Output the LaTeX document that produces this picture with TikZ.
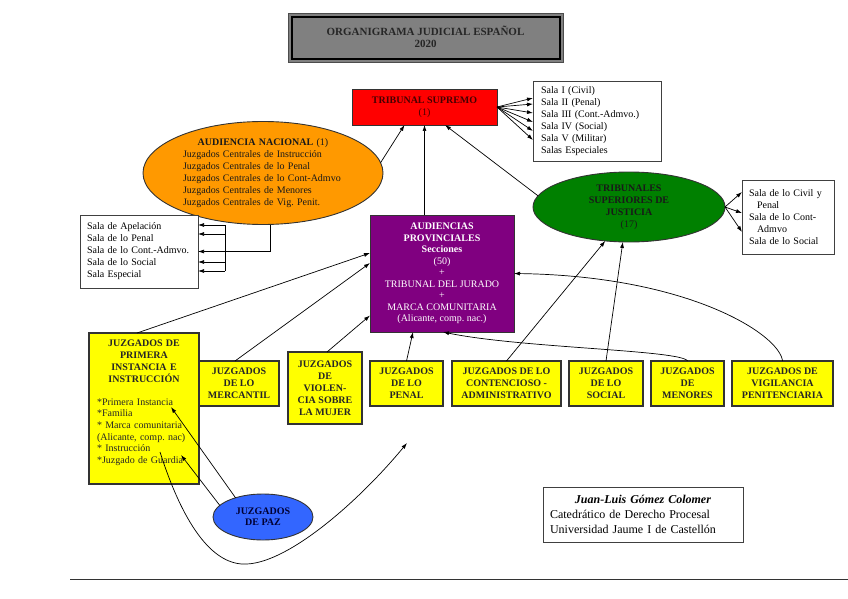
\documentclass[tikz,border=0pt]{standalone}
\usepackage{fontspec}
\setmainfont{Liberation Serif}
\usetikzlibrary{arrows.meta,shapes.geometric,calc}
\definecolor{anorange}{RGB}{255,153,0}
\definecolor{tsjgreen}{RGB}{0,128,0}
\definecolor{appurple}{RGB}{128,0,128}
\definecolor{pazblue}{RGB}{51,102,255}
\definecolor{titlegray}{RGB}{128,128,128}
\definecolor{tsred}{RGB}{255,0,0}
\definecolor{darkred}{RGB}{70,0,0}
\definecolor{navy}{RGB}{0,0,50}
\definecolor{ybg}{RGB}{255,255,0}
\frenchspacing
\begin{document}
\begin{tikzpicture}[x=1pt,y=-1pt,
  every node/.style={inner sep=0pt, outer sep=0pt, font=\fontsize{10}{12}\selectfont},
  arr/.style={-{Latex[length=6pt,width=4pt]}, line width=0.7pt},
  ln/.style={line width=0.7pt},
  ybox/.style={draw=black!80, line width=1.3pt, fill=ybg, align=center, text=black!85, font=\fontsize{10}{12}\selectfont\bfseries},
  wbox/.style={draw=black!75, line width=0.9pt, fill=white, align=left},
]
\useasboundingbox (0,0) rectangle (848,599);

% title
\node[draw=black!70, line width=1pt, fill=titlegray, minimum width=275, minimum height=49] (titlebox) at (425.5,38.5) {};
\draw[line width=2pt] ([shift={(3.5,3.5)}]titlebox.north west) rectangle ([shift={(-3.5,-3.5)}]titlebox.south east);
\node[align=center, font=\fontsize{11}{12.5}\selectfont\bfseries, text=black!85] (title) at (425.5,37) {ORGANIGRAMA JUDICIAL ESPAÑOL\\2020};

% Tribunal Supremo
\node[draw=black!80, line width=0.9pt, fill=tsred, minimum width=145, minimum height=36, align=center, text=darkred] (ts) at (424.5,107) {\textbf{TRIBUNAL SUPREMO}\\(1)};
\node[wbox, minimum height=80, text width=112, inner xsep=8] (tss) at (597,121) {Sala I (Civil)\\Sala II (Penal)\\Sala III (Cont.-Admvo.)\\Sala IV (Social)\\Sala V (Militar)\\Salas Especiales};
\foreach \dy in {-23,-17,-8,1,10,19} \draw[arr] (ts.east) -- ($(tss.west)+(0,\dy)$);

% Audiencia Nacional
\node[ellipse, draw=black!80, line width=0.9pt, fill=anorange, minimum width=240, minimum height=103, text width=160, text=black!90] (an) at (263,173) {\centering\textbf{AUDIENCIA NACIONAL} (1)\par\raggedright Juzgados Centrales de Instrucción\\Juzgados Centrales de lo Penal\\Juzgados Centrales de lo Cont-Admvo\\Juzgados Centrales de Menores\\Juzgados Centrales de Vig. Penit.};
\node[wbox, minimum height=73, text width=104, inner xsep=7] (ans) at (139,251.5) {Sala de Apelación\\Sala de lo Penal\\Sala de lo Cont.-Admvo.\\Sala de lo Social\\Sala Especial};
\draw[arr] ($(an.south)+(7,0)$) |- (ans.east);
\coordinate (brk) at ($(ans.east)+(27,0)$);
\draw[ln] ($(brk)+(0,-26.5)$) -- ($(brk)+(0,19.5)$);
\foreach \dy in {-26.5,-17.5,10.5,19.5} \draw[arr] ($(brk)+(0,\dy)$) -- ($(ans.east)+(0,\dy)$);
\draw[arr] (an.5) -- ($(ts.south)+(-20,0)$);

% Audiencias Provinciales
\node[draw=black!80, line width=0.9pt, fill=appurple, minimum width=144, minimum height=117, align=center, text=white, font=\fontsize{10}{11.5}\selectfont] (ap) at (442,273.5) {\textbf{AUDIENCIAS}\\\textbf{PROVINCIALES}\\\textbf{Secciones}\\(50)\\+\\TRIBUNAL DEL JURADO\\+\\MARCA COMUNITARIA\\(Alicante, comp. nac.)};
\draw[arr] (ts.south |- ap.north) -- (ts.south);

% TSJ
\node[ellipse, draw=black!80, line width=0.9pt, fill=tsjgreen, minimum width=192, minimum height=70, align=center, text=black!90] (tsj) at (629,207) {\textbf{TRIBUNALES}\\\textbf{SUPERIORES DE}\\\textbf{JUSTICIA}\\(17)};
\draw[arr] (tsj.173) -- ($(ts.south)+(20.5,0)$);
\node[wbox, minimum height=74, text width=78, inner xsep=7] (tsjs) at (788,217) {Sala de lo Civil y\\\hspace*{8pt}Penal\\Sala de lo Cont-\\\hspace*{8pt}Admvo\\Sala de lo Social};
\foreach \dy in {-25,-4,15} \draw[arr] (tsj.east) -- ($(tsjs.west)+(0,\dy)$);

% Juzgados
\node[ybox, minimum width=110, minimum height=151] (pi) at (144,408.5) {};
\node[anchor=north, text width=94, text=black!85] (pitxt) at ($(pi.north)+(0,7)$) {{\fontsize{10}{12}\selectfont\centering\bfseries JUZGADOS DE\\PRIMERA\\INSTANCIA E\\INSTRUCCIÓN\par}\vspace{11pt}\fontsize{10}{11.6}\selectfont\raggedright {*}Primera Instancia\\{*}Familia\\{*} Marca comunitaria\\(Alicante, comp. nac)\\{*} Instrucción\\{*}Juzgado de Guardia};
\node[ybox, minimum width=80, minimum height=45] (merc) at (239,383.5) {JUZGADOS\\DE LO\\MERCANTIL};
\node[ybox, minimum width=74, minimum height=72] (viol) at (325,388) {JUZGADOS\\DE\\VIOLEN-\\CIA SOBRE\\LA MUJER};
\node[ybox, minimum width=73, minimum height=45] (pen) at (406.5,383.5) {JUZGADOS\\DE LO\\PENAL};
\node[ybox, minimum width=109, minimum height=45] (cont) at (506.5,383.5) {JUZGADOS DE LO\\CONTENCIOSO -\\ADMINISTRATIVO};
\node[ybox, minimum width=74, minimum height=45] (soc) at (606,383.5) {JUZGADOS\\DE LO\\SOCIAL};
\node[ybox, minimum width=73, minimum height=45] (men) at (687.5,383.5) {JUZGADOS\\DE\\MENORES};
\node[ybox, minimum width=101, minimum height=45] (vig) at (782.5,383.5) {JUZGADOS DE\\VIGILANCIA\\PENITENCIARIA};

\draw[arr] ($(pi.north)+(-7,0)$) -- ($(ap.west)+(0,-20.5)$);
\draw[arr] ($(merc.north)+(-4,0)$) -- ($(ap.west)+(0,-10.5)$);
\draw[arr] ($(viol.north)+(2,0)$) -- ($(ap.west)+(0,42)$);
\draw[arr] (pen.north) -- ($(ap.south)+(-29,0)$);
\draw[arr] (men.north) .. controls (682,350) and (520,348) .. ($(ap.south)+(1,0)$);
\draw[arr] (vig.north) .. controls (780,335) and (690,276) .. (ap.east);
\draw[arr] (cont.north) -- (tsj.235);
\draw[arr] (soc.north) -- (tsj.260);

% Juzgados de Paz
\node[ellipse, draw=black!80, line width=0.9pt, fill=pazblue, minimum width=100, minimum height=46, align=center, font=\fontsize{10}{11}\selectfont\bfseries, text=navy] (paz) at (263,517) {JUZGADOS\\DE PAZ};
\coordinate (piA) at (171,407);
\coordinate (piB) at (181,455);
\coordinate (cs) at (160,452);
\coordinate (cm) at (247,564);
\coordinate (ce) at (407,443);
\draw[arr] (paz.145) -- (piA);
\draw[arr] (paz.165) -- (piB);
\draw[arr] (cs) .. controls (185,530) and (215,566) .. (cm) .. controls (290,562) and (360,500) .. (ce);

% author
\node[draw=black!75, line width=0.9pt, fill=white, minimum height=55, text width=186, inner xsep=7, font=\fontsize{12}{15}\selectfont] (auth) at (643,514.5) {\centering\textbf{\textit{Juan-Luis Gómez Colomer}}\par\raggedright Catedrático de Derecho Procesal\\Universidad Jaume I de Castellón};

\draw[line width=0.8pt, black!80] (70,579) -- (848,579);
\end{tikzpicture}
\end{document}
